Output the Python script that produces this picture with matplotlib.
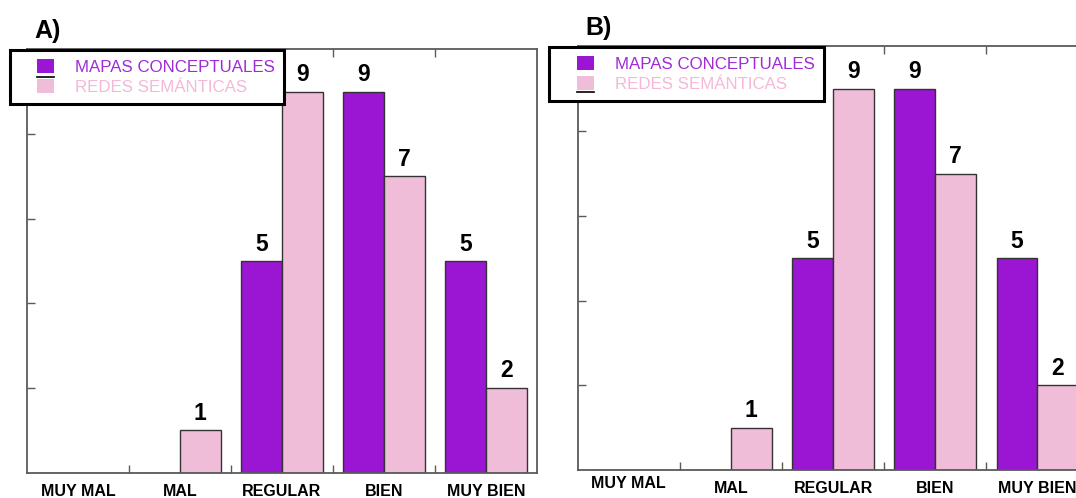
import matplotlib
matplotlib.use("Agg")
import matplotlib.pyplot as plt
from matplotlib.patches import Rectangle, Patch
from matplotlib.lines import Line2D
from matplotlib.legend_handler import HandlerBase
from matplotlib.transforms import ScaledTranslation

plt.rcParams['font.family'] = ['Liberation Sans', 'DejaVu Sans']

categories = ["MUY MAL", "MAL", "REGULAR", "BIEN", "MUY BIEN"]
series_names = ["MAPAS CONCEPTUALES", "REDES SEMÁNTICAS"]
mapas_a = [0, 0, 5, 9, 5]
redes_a = [0, 1, 9, 7, 2]
mapas_b = [0, 0, 5, 9, 5]
redes_b = [0, 1, 9, 7, 2]
panel_titles = ["A)", "B)"]

PURPLE = "#9a16d3"
PINK = "#f0bdd9"
PURPLE_TEXT = "#a02ad8"
PINK_TEXT = "#f4b8d8"
SPINE = "#5a5a5a"

W, H = 1076, 498
fig = plt.figure(figsize=(W / 100, H / 100), dpi=100)


def px_rect(left, top, right, bottom):
    return [left / W, 1 - bottom / H, (right - left) / W, (bottom - top) / H]


class SwatchHandler(HandlerBase):
    """Square colour swatch, inset from the left of the handle box, with an optional thin rule."""

    def __init__(self, inset_em, rule=None):
        super().__init__()
        self.inset_em = inset_em
        self.rule = rule  # None, "above" or "below"

    def create_artists(self, legend, orig_handle, xdescent, ydescent,
                       width, height, fontsize, trans):
        off = self.inset_em * fontsize
        x0 = -xdescent + off
        y0 = -ydescent
        w = width - off
        rect = Rectangle((x0, y0), w, height, facecolor=orig_handle.get_facecolor(),
                         edgecolor="none", transform=trans)
        artists = [rect]
        if self.rule is not None:
            gap = 0.12 * fontsize
            y = y0 + height + gap if self.rule == "above" else y0 - gap
            artists.append(Line2D([x0, x0 + w], [y, y], color="black", lw=1.2,
                                  transform=trans))
        return artists


def draw_panel(rect, title, mapas, redes, legend_xy, rule_pos, label_lift=None):
    ax = fig.add_axes(rect)
    x = list(range(len(categories)))
    width = 0.4
    ax.bar([i - width / 2 for i in x], mapas, width, color=PURPLE,
           edgecolor="#333333", linewidth=1.0, zorder=2)
    ax.bar([i + width / 2 for i in x], redes, width, color=PINK,
           edgecolor="#333333", linewidth=1.0, zorder=2)

    for i in x:
        for val, dx in ((mapas[i], -width / 2), (redes[i], width / 2)):
            if val > 0:
                ax.annotate(str(val), (i + dx, val), xytext=(0, 7.5),
                            textcoords="offset points", ha="center", va="baseline",
                            fontsize=16.5, fontweight="bold", color="black")

    ax.set_xlim(-0.5, len(categories) - 0.5)
    ax.set_ylim(0, 10)

    ax.set_xticks([i + 0.5 for i in x[:-1]])
    ax.set_xticklabels([])
    ax.set_xticks(x, minor=True)
    ax.set_xticklabels(categories, minor=True, fontsize=11.5, fontweight="bold")
    ax.tick_params(axis="x", which="minor", length=0, pad=8)
    ax.tick_params(axis="x", which="major", direction="in", length=6,
                   width=1.0, color=SPINE, top=True)
    ax.set_yticks([2, 4, 6, 8])
    ax.set_yticklabels([])
    ax.tick_params(axis="y", direction="in", length=6, width=1.0, color=SPINE)

    if label_lift:
        for idx, lift_px in label_lift.items():
            lab = ax.xaxis.get_minorticklabels()[idx]
            lab.set_transform(lab.get_transform() +
                              ScaledTranslation(0, lift_px / 100, fig.dpi_scale_trans))

    for s in ax.spines.values():
        s.set_color(SPINE)
        s.set_linewidth(1.3)

    ax.text(0.015, 1.043, title, transform=ax.transAxes, ha="left", va="center",
            fontsize=18, fontweight="bold")

    handles = [Patch(facecolor=PURPLE), Patch(facecolor=PINK)]
    hmap = {handles[0]: SwatchHandler(1.09),
            handles[1]: SwatchHandler(1.09, rule=rule_pos)}
    leg = fig.legend(handles, series_names, loc="upper left",
                     bbox_to_anchor=(legend_xy[0] / W, 1 - legend_xy[1] / H),
                     bbox_transform=fig.transFigure, borderaxespad=0,
                     fontsize=12.2, frameon=True, fancybox=False,
                     borderpad=0.55, handlelength=2.08, handleheight=0.9,
                     handletextpad=1.24, labelspacing=0.22, handler_map=hmap,
                     labelcolor=[PURPLE_TEXT, PINK_TEXT])
    frame = leg.get_frame()
    frame.set_edgecolor("black")
    frame.set_linewidth(2.2)
    frame.set_facecolor("white")
    frame.set_alpha(1)
    return ax


draw_panel(px_rect(26.9, 49.5, 537.0, 472.5), panel_titles[0], mapas_a, redes_a,
           (9.6, 50.0), "above")
draw_panel(px_rect(577.6, 46.5, 1088.6, 470.0), panel_titles[1], mapas_b, redes_b,
           (549.0, 46.7), "below", label_lift={0: 5})

fig.savefig("out.png", dpi=100)
